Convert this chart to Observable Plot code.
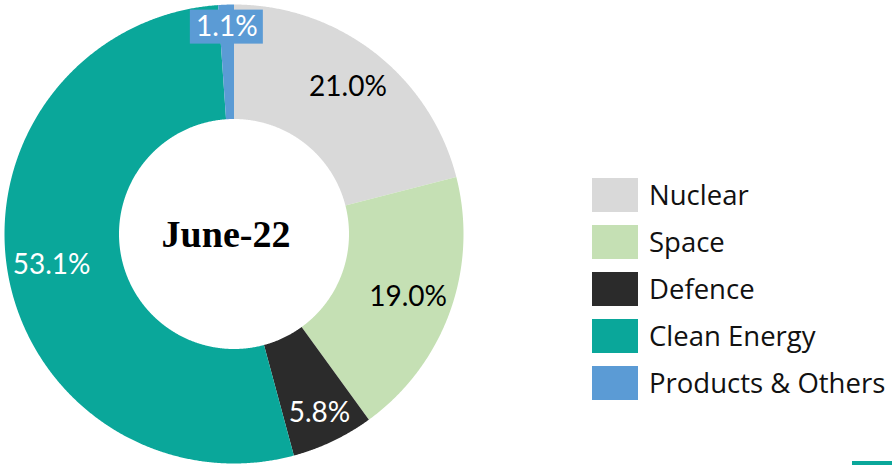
<!DOCTYPE html>
<html><head><meta charset="utf-8">
<script src="https://cdn.jsdelivr.net/npm/d3@7"></script>
<script src="https://cdn.jsdelivr.net/npm/@observablehq/plot@0.6"></script>
<style>
body{margin:0;background:#fff;}
#wrap{position:relative;width:892px;height:465px;overflow:hidden;}
#legend{position:absolute;left:592px;top:178px;display:flex !important;flex-direction:column !important;align-items:flex-start !important;margin:0 !important;min-height:0 !important;}
#legend .lg-swatch{display:flex !important;align-items:center !important;height:34px;margin:0 0 13px 0 !important;line-height:34px !important;white-space:nowrap;}
#legend .lg-swatch > svg{margin-right:11px !important;flex:none;}
#deco{position:absolute;left:852px;top:461px;width:40px;height:4px;background:#0aa79a;}
</style></head><body><div id="wrap"><div id="deco"></div></div>
<script>
const categories = ["Nuclear", "Space", "Defence", "Clean Energy", "Products & Others"];
const values = [21.0, 19.0, 5.8, 53.1, 1.1];
const colors = ["#d9d9d9", "#c5e0b4", "#2b2b2b", "#0aa79a", "#5b9bd5"];
const labelColors = ["#000000", "#000000", "#ffffff", "#ffffff", "#ffffff"];
const labelTexts = ["21.0%", "19.0%", "5.8%", "53.1%", "1.1%"];
const centerLabel = "June-22";

// layout / style constants
const W = 892, H = 465, CX = 233.5, CY = 233.5, R = 229.5, R0 = 115;
const labelRadius = [186, 185, 198, 185, 207];
const boxed = [false, false, false, false, true];
const font = "Lato, 'Open Sans', sans-serif";

const data = categories.map((c, i) => ({cat: c, value: values[i], color: colors[i], lc: labelColors[i], text: labelTexts[i], lr: labelRadius[i], boxed: boxed[i]}));
const arcs = d3.pie().sort(null).value(d => d.value)(data);

function slicePoints(a) {
  const pts = [];
  const n = Math.max(4, Math.ceil((a.endAngle - a.startAngle) / 0.005));
  for (let k = 0; k <= n; k++) {
    const t = a.startAngle + (a.endAngle - a.startAngle) * k / n;
    pts.push({x: R * Math.sin(t), y: R * Math.cos(t)});
  }
  for (let k = n; k >= 0; k--) {
    const t = a.startAngle + (a.endAngle - a.startAngle) * k / n;
    pts.push({x: R0 * Math.sin(t), y: R0 * Math.cos(t)});
  }
  return pts;
}

const labels = arcs.map(a => {
  const m = (a.startAngle + a.endAngle) / 2;
  return {...a.data, x: a.data.lr * Math.sin(m), y: a.data.lr * Math.cos(m)};
});

const sliceMarks = arcs.map(a => Plot.line(slicePoints(a), {x: "x", y: "y", fill: a.data.color, stroke: "none", curve: "linear-closed"}));

const chart = Plot.plot({
  width: W, height: H,
  margin: 0,
  x: {domain: [-CX, W - CX], axis: null},
  y: {domain: [-(H - CY), CY], axis: null},
  style: {background: "transparent", overflow: "visible"},
  marks: [
    ...sliceMarks,
    Plot.rect(labels.filter(d => d.boxed), {x1: d => d.x - 36.5, x2: d => d.x + 36.5, y1: d => d.y - 17, y2: d => d.y + 17, fill: d => d.color, inset: 0}),
    Plot.text(labels, {x: "x", y: "y", text: "text", fill: "lc", fontSize: 28, fontFamily: font}),
    Plot.text([centerLabel], {x: () => 0, y: () => 0, dx: -8, dy: 1, text: d => d, fontSize: 38, fontWeight: "bold", fontFamily: "'Liberation Serif', serif", fill: "#000"})
  ]
});
chart.style.position = "absolute";
chart.style.left = "0px";
chart.style.top = "0px";
document.getElementById("wrap").appendChild(chart);

const legend = Plot.legend({
  color: {domain: categories, range: colors},
  legend: "swatches",
  swatchWidth: 46,
  swatchHeight: 34,
  className: "lg",
  style: {fontSize: "27.5px", fontFamily: "'Open Sans', sans-serif", color: "#111"}
});
legend.id = "legend";
document.getElementById("wrap").appendChild(legend);
</script>
</body></html>
